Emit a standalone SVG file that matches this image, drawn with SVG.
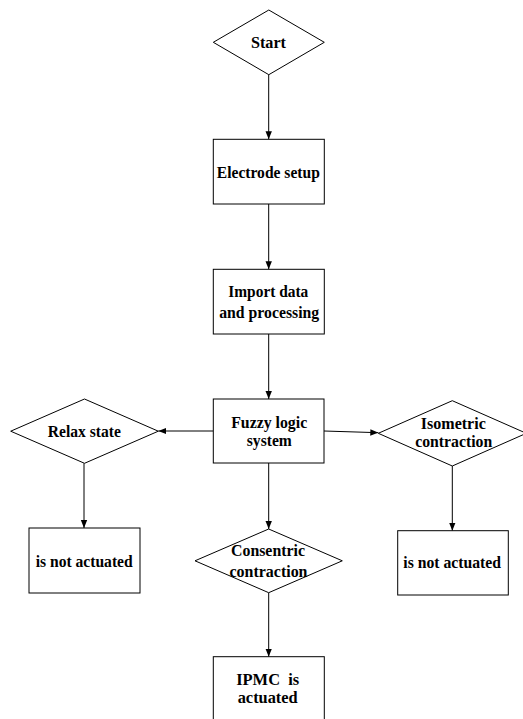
<svg xmlns="http://www.w3.org/2000/svg" width="523" height="719" viewBox="0 0 523 719">
<style>
.s{fill:#fff;stroke:#000;stroke-width:1}
.t{font-family:"Liberation Serif","Times New Roman",serif;font-weight:bold;font-size:17px;fill:#000;text-anchor:middle}
.c{stroke:#000;stroke-width:1;fill:none;marker-end:url(#a)}
</style>
<defs>
<marker id="a" markerWidth="8" markerHeight="8" refX="8" refY="4" orient="auto" markerUnits="userSpaceOnUse">
<path d="M0,0.8 L8,4 L0,7.2 Z" fill="#000"/>
</marker>
</defs>
<rect width="523" height="719" fill="#fff"/>
<g id="connectors">
<line class="c" x1="268.7" y1="74.7" x2="268.7" y2="139.3"/>
<line class="c" x1="268.7" y1="204" x2="268.7" y2="269.3"/>
<line class="c" x1="268.7" y1="334" x2="268.7" y2="399"/>
<line class="c" x1="213.3" y1="431" x2="158.3" y2="431"/>
<line class="c" x1="324" y1="431" x2="378.3" y2="432.7"/>
<line class="c" x1="84" y1="463.3" x2="84" y2="528"/>
<line class="c" x1="268.7" y1="463" x2="268.7" y2="529"/>
<line class="c" x1="452.3" y1="466" x2="452.3" y2="530.7"/>
<line class="c" x1="268.7" y1="592.7" x2="268.7" y2="656.7"/>
</g>
<g id="start">
<polygon class="s" points="268.8,10 324.3,42.3 268.8,74.7 213.3,42.3"/>
<text class="t" x="268.5" y="47.7" textLength="35" lengthAdjust="spacingAndGlyphs">Start</text>
</g>
<g id="electrode">
<rect class="s" x="213.3" y="139.3" width="111" height="64.7"/>
<text class="t" x="268.3" y="178.3" textLength="103" lengthAdjust="spacingAndGlyphs">Electrode setup</text>
</g>
<g id="import">
<rect class="s" x="213.3" y="269.3" width="111" height="64.7"/>
<text class="t" x="268.3" y="296.7" textLength="80" lengthAdjust="spacingAndGlyphs">Import data</text>
<text class="t" x="269.2" y="318.3" textLength="100" lengthAdjust="spacingAndGlyphs">and processing</text>
</g>
<g id="fuzzy">
<rect class="s" x="213.3" y="399" width="110.7" height="64"/>
<text class="t" x="269.2" y="427.7" textLength="76" lengthAdjust="spacingAndGlyphs">Fuzzy logic</text>
<text class="t" x="269.3" y="445.7" textLength="45" lengthAdjust="spacingAndGlyphs">system</text>
</g>
<g id="relax">
<polygon class="s" points="84.5,399 158.3,431.2 84.5,463.3 10.7,431.2"/>
<text class="t" x="84.3" y="437.3" textLength="73" lengthAdjust="spacingAndGlyphs">Relax state</text>
</g>
<g id="isometric">
<polygon class="s" points="452.3,400.7 526.3,433.3 452.3,466 378.3,433.3"/>
<text class="t" x="453.3" y="429" textLength="65" lengthAdjust="spacingAndGlyphs">Isometric</text>
<text class="t" x="453.7" y="446.7" textLength="77" lengthAdjust="spacingAndGlyphs">contraction</text>
</g>
<g id="left-result">
<rect class="s" x="29" y="528" width="111" height="65"/>
<text class="t" x="84.2" y="566.7" textLength="97" lengthAdjust="spacingAndGlyphs">is not actuated</text>
</g>
<g id="consentric">
<polygon class="s" points="268.7,529 342.3,560.8 268.7,592.7 195,560.8"/>
<text class="t" x="268" y="556" textLength="74" lengthAdjust="spacingAndGlyphs">Consentric</text>
<text class="t" x="268.5" y="576.7" textLength="78" lengthAdjust="spacingAndGlyphs">contraction</text>
</g>
<g id="right-result">
<rect class="s" x="397.7" y="530.7" width="110.6" height="64.3"/>
<text class="t" x="452.2" y="568.3" textLength="97.7" lengthAdjust="spacingAndGlyphs">is not actuated</text>
</g>
<g id="ipmc">
<rect class="s" x="213.3" y="656.7" width="111" height="70"/>
<text class="t" x="267.7" y="685" textLength="63" lengthAdjust="spacingAndGlyphs" xml:space="preserve">IPMC  is</text>
<text class="t" x="267.7" y="703.3" textLength="60" lengthAdjust="spacingAndGlyphs">actuated</text>
</g>
</svg>
